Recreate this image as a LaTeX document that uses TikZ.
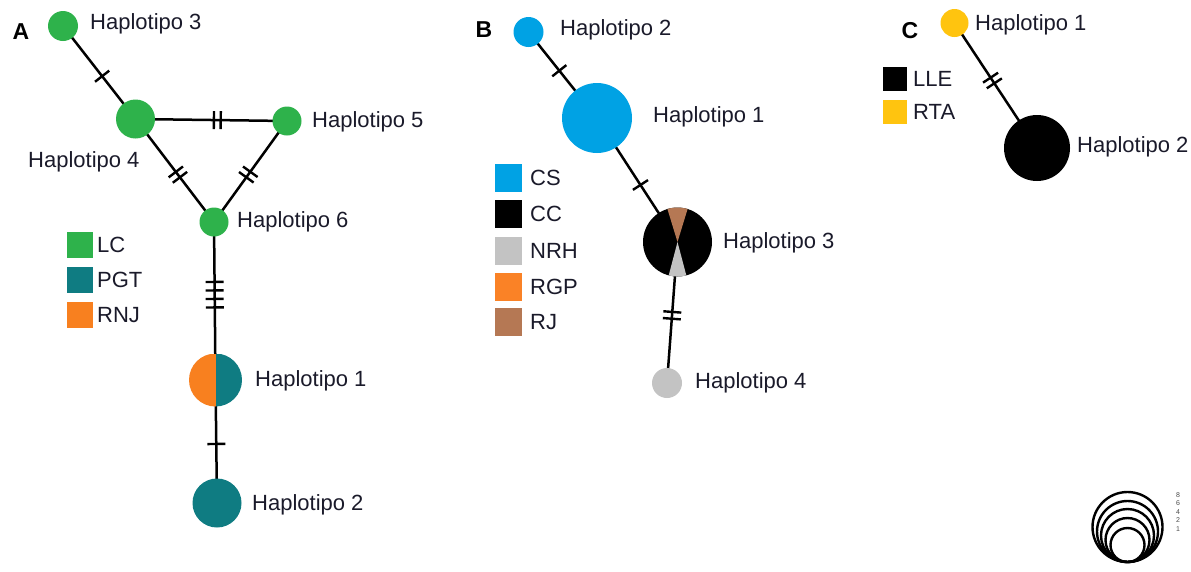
\documentclass[tikz,border=0pt]{standalone}
\usepackage{fontspec}
\setmainfont{Liberation Sans}
\usetikzlibrary{decorations.markings,backgrounds}
\definecolor{lcgreen}{HTML}{2EB24B}
\definecolor{pgtteal}{HTML}{0F7C82}
\definecolor{rnjorange}{HTML}{F8801F}
\definecolor{csblue}{HTML}{00A2E4}
\definecolor{nrhgrey}{HTML}{C3C3C3}
\definecolor{rgporange}{HTML}{FA8226}
\definecolor{rjbrown}{HTML}{B57854}
\definecolor{rtayellow}{HTML}{FFC40F}
\definecolor{labtext}{HTML}{1A1A2A}
\tikzset{
  hap/.style={circle, inner sep=0pt, minimum size=#1, draw=none},
  lab/.style={inner sep=0pt, anchor=west, text=labtext, font=\fontsize{22}{26}\selectfont},
  panel/.style={inner sep=0pt, font=\fontsize{23}{27}\selectfont\bfseries},
  keybox/.style={rectangle, inner sep=0pt, minimum width=26pt, minimum height=26pt, draw=none},
  link/.style={line width=2.5pt},
  tickline/.style={line width=2.4pt},
  tick1/.style={postaction={decorate,decoration={markings,
      mark=at position #1 with {\draw[tickline] (0,-9pt)--(0,9pt);}}}},
  tick2/.style={postaction={decorate,decoration={markings,
      mark=at position #1 with {\draw[tickline] (-3.4pt,-9pt)--(-3.4pt,9pt);
                                \draw[tickline] (3.4pt,-9pt)--(3.4pt,9pt);}}}},
  tick4/.style={postaction={decorate,decoration={markings,
      mark=at position #1 with {\foreach \d in {-12.75,-4.25,4.25,12.75}
                                  {\draw[tickline] (\d pt,-9pt)--(\d pt,9pt);}}}}},
  ring/.style={circle, inner sep=0pt, minimum size=#1, draw=black, line width=2.4pt},
}
\begin{document}
\begin{tikzpicture}[x=1pt,y=-1pt]
\useasboundingbox (0,0) rectangle (1191,571);

% ---------------- Panel A ----------------
\node[panel] (pA) at (21,32) {A};
\node[hap=30pt, fill=lcgreen] (a3) at (63,26) {};
\node[hap=39pt, fill=lcgreen] (a4) at (135.5,119) {};
\node[hap=29pt, fill=lcgreen] (a5) at (287,121) {};
\node[hap=29pt, fill=lcgreen] (a6) at (214,222) {};
\node[hap=53pt, path picture={
    \fill[rnjorange] (path picture bounding box.south west) rectangle (path picture bounding box.north);
    \fill[pgtteal] (path picture bounding box.south) rectangle (path picture bounding box.north east);}]
  (a1) at (215.5,380) {};
\node[hap=49pt, fill=pgtteal] (a2) at (217,503) {};

\node[lab] (la3) at (90,24) {Haplotipo 3};
\node[lab] (la4) at (28,162) {Haplotipo 4};
\node[lab] (la5) at (312,122) {Haplotipo 5};
\node[lab] (la6) at (237,222) {Haplotipo 6};
\node[lab] (la1) at (255,381) {Haplotipo 1};
\node[lab] (la2) at (252,505) {Haplotipo 2};

\node[keybox, fill=lcgreen] (kLC) at (80,245) {};
\node[keybox, fill=pgtteal] (kPGT) at (80,280) {};
\node[keybox, fill=rnjorange] (kRNJ) at (80,315) {};
\node[lab] (tLC) at (97,245) {LC};
\node[lab] (tPGT) at (97,280) {PGT};
\node[lab] (tRNJ) at (97,315) {RNJ};

% ---------------- Panel B ----------------
\node[panel] (pB) at (484,30) {B};
\node[hap=30pt, fill=csblue] (b2) at (528.5,32) {};
\node[hap=70pt, fill=csblue] (b1) at (597,118) {};
\node[hap=69pt, fill=black, path picture={
    \fill[rjbrown] (path picture bounding box.center) -- +(-11pt,36pt) -- +(11pt,36pt) -- cycle;
    \fill[nrhgrey] (path picture bounding box.center) -- +(-9.5pt,-36pt) -- +(9.5pt,-36pt) -- cycle;}]
  (b3) at (677.5,242) {};
\node[hap=30pt, fill=nrhgrey] (b4) at (667,383) {};

\node[lab] (lb2) at (560,30) {Haplotipo 2};
\node[lab] (lb1) at (653,117) {Haplotipo 1};
\node[lab] (lb3) at (723,243) {Haplotipo 3};
\node[lab] (lb4) at (695,383) {Haplotipo 4};

\node[keybox, minimum width=27pt, minimum height=28pt, fill=csblue] (kCS) at (508.5,178) {};
\node[keybox, minimum width=27pt, minimum height=28pt, fill=black] (kCC) at (508.5,214) {};
\node[keybox, minimum width=27pt, minimum height=28pt, fill=nrhgrey] (kNRH) at (508.5,251) {};
\node[keybox, minimum width=27pt, minimum height=28pt, fill=rgporange] (kRGP) at (508.5,287) {};
\node[keybox, minimum width=27pt, minimum height=28pt, fill=rjbrown] (kRJ) at (508.5,322) {};
\node[lab] (tCS) at (530,178) {CS};
\node[lab] (tCC) at (530,214) {CC};
\node[lab] (tNRH) at (530,251) {NRH};
\node[lab] (tRGP) at (530,287) {RGP};
\node[lab] (tRJ) at (530,322) {RJ};

% ---------------- Panel C ----------------
\node[panel] (pC) at (910,31) {C};
\node[hap=28pt, fill=rtayellow] (c1) at (954.5,23) {};
\node[hap=66pt, fill=black] (c2) at (1037,148) {};
\node[lab] (lc1) at (975,25) {Haplotipo 1};
\node[lab] (lc2) at (1077,147) {Haplotipo 2};
\node[keybox, minimum width=24pt, minimum height=24pt, fill=black] (kLLE) at (895,79) {};
\node[keybox, minimum width=24pt, minimum height=24pt, fill=rtayellow] (kRTA) at (895,111.5) {};
\node[lab] (tLLE) at (913,79) {LLE};
\node[lab] (tRTA) at (913,111.5) {RTA};

% ---------------- Size scale ----------------
\node[ring=70pt] (s8) at (1127.5,527) {};
\node[ring=61pt] (s6) at (1127.5,531.5) {};
\node[ring=53pt] (s4) at (1127.5,535.5) {};
\node[ring=44pt] (s2) at (1127.5,540) {};
\node[ring=34pt] (s1) at (1127.5,545) {};
\foreach \n/\yy in {8/495,6/503.5,4/512,2/520.5,1/529}
  \node[inner sep=0pt, font=\fontsize{7}{8}\selectfont, text=black!70] (n\n) at (1178,\yy) {\n};

% ---------------- Connectors ----------------
\begin{pgfonlayer}{background}
\fill[white] (0,0) rectangle (1191,571);
\draw[link, tick1=0.54] (a3.center) -- (a4.center);
\draw[link, tick2=0.54] (a4.center) -- (a5.center);
\draw[link, tick2=0.54] (a4.center) -- (a6.center);
\draw[link, tick2=0.53] (a5.center) -- (a6.center);
\draw[link, tick4=0.46] (a6.center) -- (a1.center);
\draw[link, tick1=0.52] (a1.center) -- (a2.center);
\draw[link, tick1=0.45] (b2.center) -- (b1.center);
\draw[link, tick1=0.54] (b1.center) -- (b3.center);
\draw[link, tick2=0.52] (b3.center) -- (b4.center);
\draw[link, tick2=0.46] (c1.center) -- (c2.center);
\end{pgfonlayer}
\end{tikzpicture}
\end{document}
